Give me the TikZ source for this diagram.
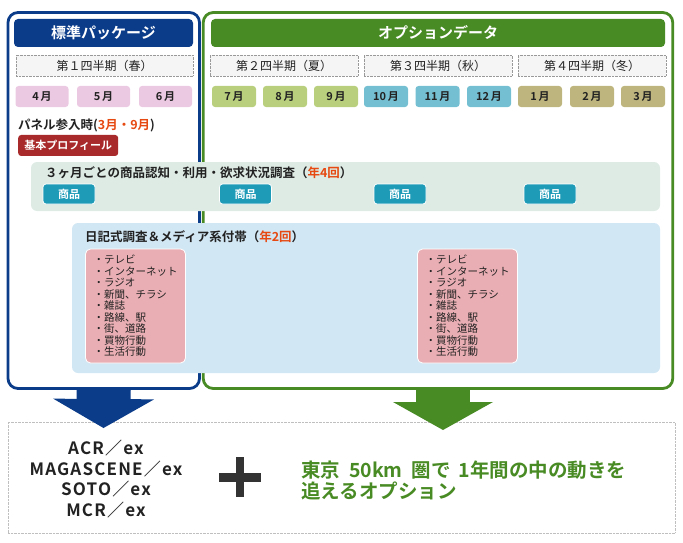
\documentclass[tikz,border=0pt]{standalone}
\usepackage{fontspec}
\setmainfont{Noto Sans CJK JP}[BoldFont={Noto Sans CJK JP Bold}]
\usetikzlibrary{arrows.meta,positioning}

\definecolor{navy}{HTML}{0B3C8A}
\definecolor{leaf}{HTML}{488A23}
\definecolor{darktxt}{HTML}{222222}
\definecolor{qgray}{HTML}{F5F5F5}
\definecolor{springm}{HTML}{ECC9E2}
\definecolor{summerm}{HTML}{B9CF7D}
\definecolor{autumnm}{HTML}{74BFD1}
\definecolor{winterm}{HTML}{BDB57D}
\definecolor{profred}{HTML}{A82A2A}
\definecolor{accent}{HTML}{E64A12}
\definecolor{graybandc}{HTML}{DEEBE4}
\definecolor{bluebandc}{HTML}{D2E7F4}
\definecolor{itemteal}{HTML}{1E9BB7}
\definecolor{mediapink}{HTML}{E9AEB3}
\definecolor{plusgray}{HTML}{333333}

\begin{document}
\begin{tikzpicture}[
    x=1pt,y=-1pt,
    every node/.style={inner sep=0pt,align=center,text=darktxt},
    frame/.style={draw,line width=2.8pt,rounded corners=10pt,minimum height=376pt},
    header/.style={rounded corners=4pt,minimum height=28pt,text=white,font=\fontsize{15}{18}\selectfont\bfseries},
    quarter/.style={draw=gray!80,densely dotted,fill=qgray,minimum width=148pt,minimum height=21pt,font=\fontsize{12}{14}\selectfont},
    month/.style={rounded corners=3pt,minimum height=21pt,font=\fontsize{11}{13}\selectfont\bfseries},
    band/.style={rounded corners=6pt},
    item/.style={draw=white,thick,fill=itemteal,rounded corners=3pt,minimum width=52pt,minimum height=20pt,text=white,font=\fontsize{11}{13}\selectfont\bfseries},
    mediabox/.style={draw=white,thick,fill=mediapink,rounded corners=5pt,minimum width=100pt,minimum height=114pt,align=left,font=\fontsize{10.5}{11.5}\selectfont},
    title/.style={anchor=west,font=\fontsize{12.5}{15}\selectfont\bfseries},
    bigarrow/.style={line width=54pt}
]
\useasboundingbox (0,0) rectangle (683,543);

% frames
\node[frame,draw=leaf,minimum width=469.5pt] (greenfr) at (438,200.5) {};
\node[frame,draw=navy,minimum width=191.5pt] (bluefr) at (103.75,200.5) {};
\node[header,fill=navy,minimum width=179pt] (stdhead) at (103.5,33) {標準パッケージ};
\node[header,fill=leaf,minimum width=454pt] (opthead) at (438,33) {オプションデータ};

% quarters
\node[quarter,minimum width=177pt] (q1) at (104.5,65.5) {第１四半期（春）};
\node[quarter] (q2) at (284,65.5) {第２四半期（夏）};
\node[quarter] (q3) at (438,65.5) {第３四半期（秋）};
\node[quarter] (q4) at (592,65.5) {第４四半期（冬）};

% months
\foreach \n/\x/\w/\c in {4/42/53/springm,5/103.5/53/springm,6/165.5/53/springm,
    7/234/44/summerm,8/285/44/summerm,9/336/44/summerm,
    10/386/44/autumnm,11/437.5/44/autumnm,12/489/44/autumnm,
    1/540/44/winterm,2/592/44/winterm,3/643/44/winterm}
  \node[month,fill=\c,minimum width=\w pt] (m\n) at (\x,96.5) {\n\,月};

\node[anchor=west,font=\fontsize{12.5}{14}\selectfont\bfseries] (panel) at (18,125) {パネル参入時(\textcolor{accent}{3月・9月})};
\node[below right=3pt and 0pt of panel.south west,anchor=north west,fill=profred,rounded corners=3pt,
      minimum width=100pt,minimum height=21pt,text=white,font=\fontsize{11}{13}\selectfont\bfseries] (profile) {基本プロフィール};

% quarterly survey
\node[band,fill=graybandc,minimum width=629pt,minimum height=49pt] (qband) at (345.5,186.5) {};
\node[title] (qtitle) at (45,173) {３ヶ月ごとの商品認知・利用・欲求状況調査（\textcolor{accent}{年4回}）};
\foreach \i/\x in {1/69,2/245.5,3/400,4/550}
  \node[item] (item\i) at (\x,194) {商品};

% diary survey
\node[band,fill=bluebandc,minimum width=588pt,minimum height=150pt] (dband) at (366,298) {};
\node[title] (dtitle) at (85,237) {日記式調査＆メディア系付帯（\textcolor{accent}{年2回}）};
\foreach \i/\x in {1/135.5,2/467.5}
  \node[mediabox] (media\i) at (\x,306) {・テレビ\\・インターネット\\・ラジオ\\・新聞、チラシ\\・雑誌\\・路線、駅\\・街、道路\\・買物行動\\・生活行動};

% result
\node[draw=gray!50,densely dotted,minimum width=667pt,minimum height=111pt] (result) at (341.5,477.5) {};
\coordinate (bluetip) at (103.5,428);
\coordinate (greentip) at (443,430);
\draw[bigarrow,navy,-{Triangle[length=29pt,width=101pt,line width=0pt]}] (bluefr.south) -- (bluetip);
\draw[bigarrow,leaf,-{Triangle[length=28pt,width=100pt,line width=0pt]}] (greentip |- greenfr.south) -- (greentip);

\node[font=\fontsize{17}{20.7}\selectfont\bfseries\addfontfeatures{LetterSpace=7}] (products) at (106,479) {ACR／ex\\MAGASCENE／ex\\SOTO／ex\\MCR／ex};
\fill[plusgray] (219,473) rectangle (261,482);
\fill[plusgray] (236,457) rectangle (244,497);
\node[anchor=west,align=left,text=leaf,font=\fontsize{19.5}{21}\selectfont\bfseries] (optnote) at (301,480) {東京\hspace{9pt}50km\hspace{9pt}圏で\hspace{8pt}1年間の中の動きを\\追えるオプション};
\end{tikzpicture}
\end{document}
